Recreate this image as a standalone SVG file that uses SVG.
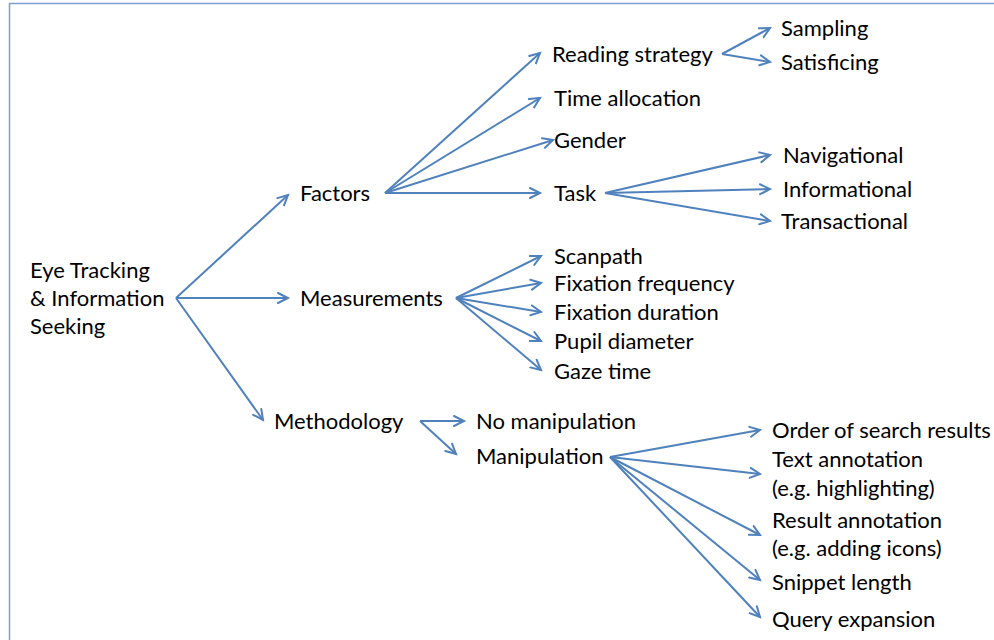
<svg xmlns="http://www.w3.org/2000/svg" width="994" height="640" viewBox="0 0 994 640">
<defs>
<marker id="ah" markerUnits="userSpaceOnUse" markerWidth="14" markerHeight="14" refX="11" refY="6" orient="auto" viewBox="0 0 14 12">
<path d="M1,1 L11,6 L1,11" fill="none" stroke="#4F81BD" stroke-width="2" stroke-linecap="round" stroke-linejoin="miter"/>
</marker>
<style>
text{font-family:Lato,"Open Sans","Liberation Sans",sans-serif;font-size:22px;fill:#000}
.c line{stroke:#4F81BD;stroke-width:2;marker-end:url(#ah)}
</style>
</defs>
<rect width="994" height="640" fill="#fff"/>
<path d="M9.5,640 V3.5 H994" fill="none" stroke="#7A9FD0" stroke-width="1.5"/>
<g class="c" id="connectors">
<line x1="176" y1="298" x2="288" y2="195"/>
<line x1="176" y1="298" x2="288" y2="298"/>
<line x1="176" y1="298" x2="263" y2="420"/>
<line x1="385" y1="193" x2="540" y2="53"/>
<line x1="385" y1="193" x2="540" y2="98"/>
<line x1="385" y1="193" x2="553" y2="140"/>
<line x1="385" y1="193" x2="540" y2="193"/>
<line x1="722" y1="54" x2="770" y2="28"/>
<line x1="722" y1="54" x2="770" y2="62"/>
<line x1="605" y1="193" x2="770" y2="155"/>
<line x1="605" y1="193" x2="770" y2="189"/>
<line x1="605" y1="193" x2="770" y2="221"/>
<line x1="456" y1="298" x2="541" y2="256"/>
<line x1="456" y1="298" x2="541" y2="283"/>
<line x1="456" y1="298" x2="541" y2="312"/>
<line x1="456" y1="298" x2="541" y2="341"/>
<line x1="456" y1="298" x2="541" y2="370"/>
<line x1="420" y1="421" x2="464" y2="421"/>
<line x1="420" y1="421" x2="456" y2="454"/>
<line x1="610" y1="457" x2="760" y2="430"/>
<line x1="610" y1="457" x2="760" y2="474"/>
<line x1="610" y1="457" x2="760" y2="535"/>
<line x1="610" y1="457" x2="760" y2="580"/>
<line x1="610" y1="457" x2="760" y2="617"/>
</g>
<g id="root"><text x="30" y="278">Eye Tracking</text><text x="30" y="306">&amp; Information</text><text x="30" y="334">Seeking</text></g>
<g id="factors"><text x="300" y="201">Factors</text></g>
<g id="measurements"><text x="300" y="306">Measurements</text></g>
<g id="methodology"><text x="274" y="429">Methodology</text></g>
<g id="reading"><text x="552" y="62">Reading strategy</text></g>
<g id="time"><text x="554" y="106">Time allocation</text></g>
<g id="gender"><text x="554" y="148">Gender</text></g>
<g id="task"><text x="554" y="201">Task</text></g>
<g id="sampling"><text x="781" y="36">Sampling</text></g>
<g id="satisficing"><text x="781" y="70">Satisficing</text></g>
<g id="navigational"><text x="783" y="163">Navigational</text></g>
<g id="informational"><text x="783" y="197">Informational</text></g>
<g id="transactional"><text x="781" y="229">Transactional</text></g>
<g id="scanpath"><text x="554" y="264">Scanpath</text></g>
<g id="fixfreq"><text x="554" y="291">Fixation frequency</text></g>
<g id="fixdur"><text x="554" y="320">Fixation duration</text></g>
<g id="pupil"><text x="554" y="349">Pupil diameter</text></g>
<g id="gaze"><text x="554" y="379">Gaze time</text></g>
<g id="nomanip"><text x="476" y="429">No manipulation</text></g>
<g id="manip"><text x="476" y="464">Manipulation</text></g>
<g id="order"><text x="772" y="438">Order of search results</text></g>
<g id="textann"><text x="772" y="467">Text annotation</text><text x="772" y="496">(e.g. highlighting)</text></g>
<g id="resultann"><text x="772" y="528">Result annotation</text><text x="772" y="556">(e.g. adding icons)</text></g>
<g id="snippet"><text x="772" y="590">Snippet length</text></g>
<g id="query"><text x="772" y="627">Query expansion</text></g>
</svg>
